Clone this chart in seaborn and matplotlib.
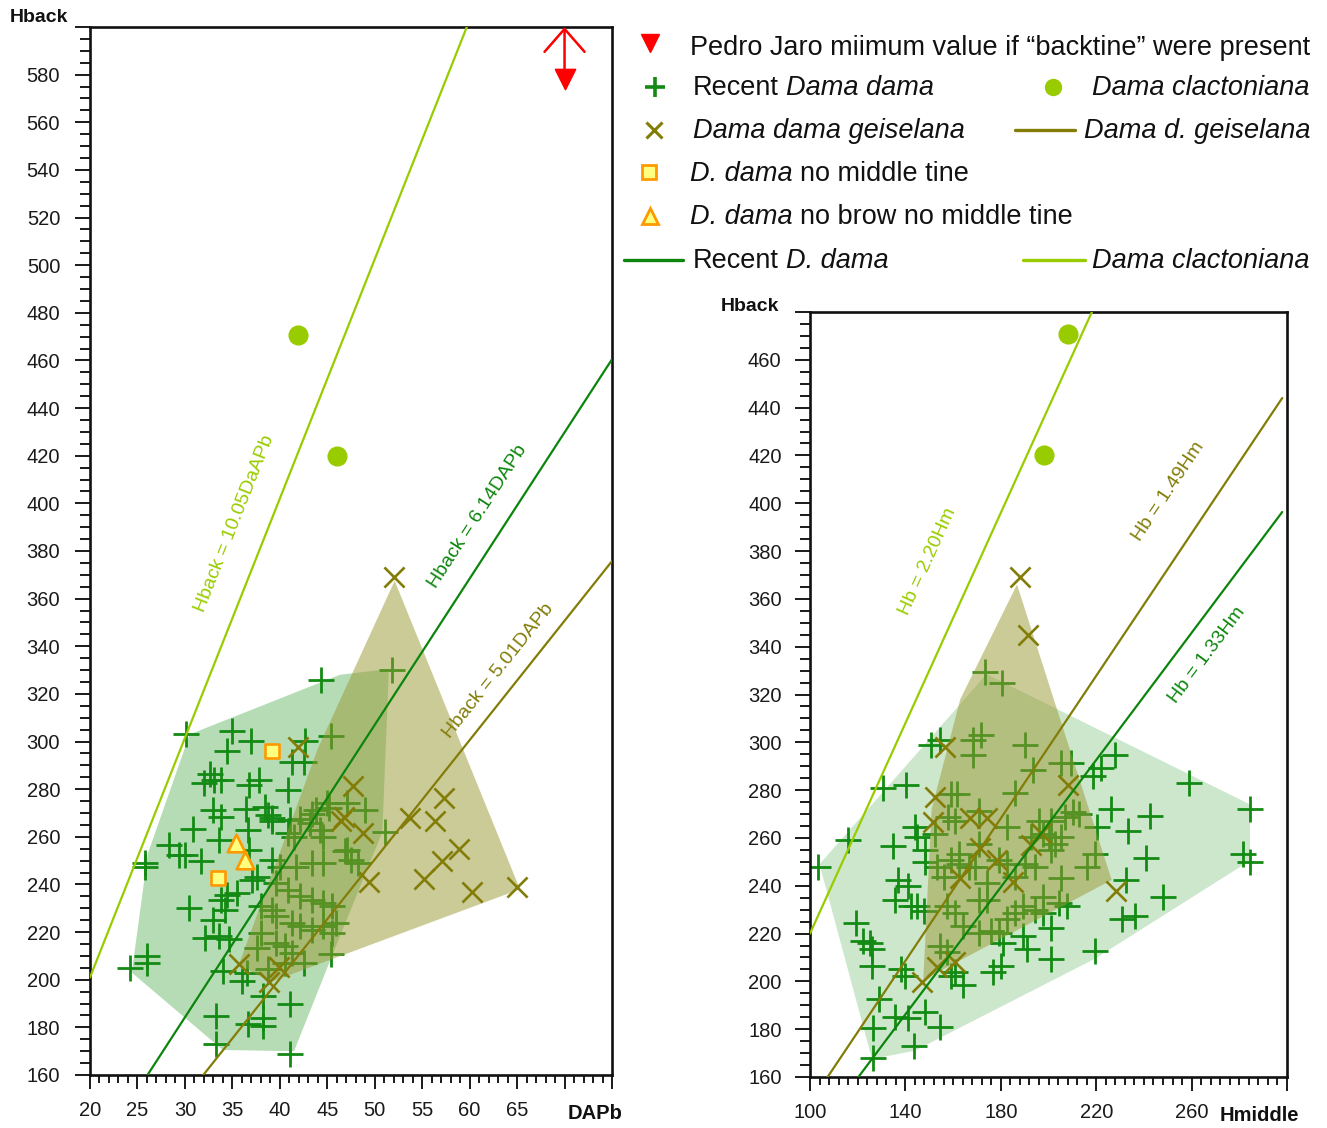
import numpy as np
import pandas as pd
import matplotlib
matplotlib.use("Agg")
import matplotlib.pyplot as plt
from matplotlib.ticker import MultipleLocator
import seaborn as sns

# ---------------- left panel: DAPb vs Hback ----------------
recent_dapb = [30.1, 44.3, 51.8, 35.0, 37.0, 34.4, 45.4, 42.7, 41.3, 42.5, 32.6, 32.0, 33.1, 33.8,
               36.8, 37.8, 40.9, 33.0, 33.8, 36.4, 38.4, 38.8, 39.2, 41.1, 42.1, 43.8, 45.0, 47.1,
               49.0, 30.9, 28.3, 29.4, 30.0, 31.7, 33.6, 36.6, 36.8, 40.9, 41.5, 43.2, 44.2, 44.6,
               47.1, 47.5, 48.2, 51.1, 25.8, 25.8, 24.2, 26.0, 26.0, 30.4, 33.0, 33.8, 34.4, 35.5,
               34.2, 32.1, 33.6, 34.6, 34.0, 36.0, 36.5, 37.6, 37.1, 37.6, 39.2, 40.0, 41.7, 43.4,
               44.6, 39.6, 40.9, 42.1, 43.4, 44.6, 45.5, 38.0, 39.2, 39.6, 41.3, 42.1, 43.4, 44.6,
               45.9, 45.5, 38.0, 39.6, 40.5, 41.3, 42.5, 40.5, 38.8, 45.4, 38.2, 41.1, 33.3, 36.6,
               38.2, 38.2, 33.3, 41.1, 46.9, 45.2, 43.4, 39.2]
recent_hback = [303.3, 326.0, 330.2, 304.4, 300.2, 296.0, 302.4, 300.2, 291.3, 291.3, 286.5, 282.4,
                283.8, 283.8, 281.7, 283.8, 279.6, 271.2, 268.4, 271.6, 272.6, 269.1, 267.7, 267.0,
                267.3, 271.2, 274.0, 274.0, 271.2, 263.3, 256.6, 252.4, 252.4, 250.0, 258.7, 262.9,
                254.5, 261.5, 260.0, 265.6, 262.9, 260.0, 254.5, 250.3, 248.9, 262.2, 248.9, 247.4,
                205.0, 207.1, 209.9, 230.1, 225.2, 233.6, 235.7, 236.4, 229.4, 217.6, 218.3, 216.9,
                203.6, 199.4, 202.9, 213.4, 242.0, 243.3, 250.3, 247.5, 247.5, 248.9, 248.9, 240.6,
                237.8, 235.0, 233.6, 232.2, 230.8, 230.8, 229.4, 226.6, 223.8, 222.4, 221.0, 222.4,
                223.8, 219.7, 219.7, 215.5, 214.1, 211.3, 207.1, 207.1, 204.3, 210.6, 193.2, 189.7,
                184.8, 181.3, 184.1, 180.6, 173.0, 168.8, 254.1, 272.3, 269.5, 266.7]

geis_dapb = [52.0, 41.9, 47.7, 46.4, 46.8, 48.8, 53.7, 56.3, 57.3, 58.9, 57.1, 55.2, 49.4, 60.2,
             65.0, 35.7, 39.9, 38.9]
geis_hback = [369.2, 297.7, 281.3, 266.7, 268.5, 261.4, 268.1, 266.7, 276.2, 254.9, 249.7, 242.3,
              241.2, 237.0, 239.1, 206.7, 205.3, 199.0]

clacto_dapb = [41.9, 46.0]
clacto_hback_l = [470.5, 420.0]

no_middle_dapb = [39.2, 33.5]
no_middle_hback = [296.2, 242.7]
no_brow_dapb = [35.4, 36.3]
no_brow_hback = [257.5, 250.2]

pedro_dapb = [70.0]
pedro_hback = [578.0]

# outlines of the two groups (DAPb, Hback)
recent_hull_dapb = [24.4, 26.1, 30.5, 46.3, 51.5, 50.8, 45.5, 41.5, 34.0]
recent_hull_hback = [203.0, 253.0, 303.0, 328.0, 330.5, 262.0, 210.0, 170.0, 170.5]
geis_hull_dapb = [52.1, 65.3, 39.0, 35.7, 44.0]
geis_hull_hback = [367.5, 238.0, 199.0, 206.5, 297.0]

# fitted ratios, left panel
left_slopes = {"clacto": 10.05, "recent": 6.14, "geis": 5.01}

# ---------------- right panel: Hmiddle vs Hback ----------------
recent_hm = [103.2, 116.1, 119.1, 122.4, 125.0, 125.8, 125.8, 128.8, 126.6, 126.3, 130.8, 140.4,
             135.0, 136.7, 140.9, 135.8, 138.0, 140.0, 135.8, 140.9, 143.7, 144.2, 145.0, 145.0,
             147.9, 148.4, 154.3, 150.6, 154.3, 148.4, 153.4, 158.0, 159.3, 161.8, 168.5, 171.9,
             168.5, 173.4, 180.4, 190.3, 193.6, 186.1, 205.4, 209.5, 218.8, 222.1, 228.0, 259.0,
             284.6, 281.6, 284.6, 226.0, 242.7, 233.5, 241.0, 232.7, 248.1, 231.0, 236.4, 219.3,
             201.2, 201.2, 205.4, 219.6, 220.4, 216.2, 212.9, 210.4, 207.1, 201.2, 196.2, 192.8,
             197.8, 202.8, 205.4, 194.5, 190.3, 186.1, 182.7, 179.4, 174.4, 171.0, 174.4, 169.3,
             166.8, 162.6, 159.3, 156.3, 157.6, 161.0, 164.3, 171.0, 176.0, 179.4, 182.7, 186.1,
             189.4, 194.5, 197.8, 204.5, 207.8, 189.4, 181.0, 154.3, 157.6, 161.0, 159.3, 164.3,
             176.9, 180.2, 182.7, 171.0, 161.0, 152.6, 148.1, 142.5, 171.0, 162.6, 200.3, 201.2,
             191.1, 197.8]
recent_hb = [247.9, 259.0, 224.5, 216.9, 216.2, 213.5, 206.6, 192.8, 180.4, 168.0, 281.0, 282.1,
             256.6, 242.4, 239.7, 234.1, 205.2, 202.4, 185.2, 184.5, 172.8, 264.5, 260.3, 231.4,
             229.3, 187.3, 181.1, 298.9, 301.0, 250.0, 247.9, 268.6, 278.2, 278.2, 301.0, 303.0,
             294.8, 329.6, 324.7, 298.9, 288.6, 278.9, 291.3, 291.3, 285.8, 289.3, 294.8, 283.1,
             272.3, 253.4, 250.0, 272.3, 269.3, 263.1, 251.4, 242.4, 235.5, 225.9, 227.3, 212.8,
             209.3, 222.4, 243.1, 253.4, 264.5, 247.9, 270.0, 270.7, 268.6, 267.2, 267.2, 260.3,
             261.7, 257.6, 260.3, 247.9, 249.3, 243.8, 249.3, 250.7, 241.0, 234.1, 234.1, 247.9,
             247.9, 249.3, 250.7, 243.8, 231.4, 228.6, 223.1, 220.4, 221.0, 220.4, 225.9, 228.6,
             231.4, 230.0, 228.6, 232.8, 231.4, 219.0, 216.2, 214.9, 212.1, 203.8, 202.4, 198.3,
             203.8, 206.6, 264.5, 271.4, 267.2, 261.7, 254.8, 231.4, 257.6, 253.4, 260.3, 254.8,
             213.5, 235.5]

geis_hm = [188.1, 191.4, 156.6, 152.4, 151.4, 167.1, 174.1, 171.3, 178.3, 185.2, 162.9, 192.5,
           197.0, 208.3, 228.3, 153.1, 160.8, 146.8]
geis_hb = [369.3, 344.9, 298.2, 277.3, 266.8, 268.2, 268.2, 255.7, 250.8, 241.7, 243.1, 257.0,
           262.2, 282.2, 238.0, 206.2, 208.2, 199.9]

clacto_hm = [208.0, 198.2]
clacto_hb = [471.0, 420.0]

recent_hull_hm = [104.0, 174.0, 284.5, 284.5, 219.5, 144.0, 126.0]
recent_hull_hb = [249.0, 328.5, 274.0, 250.5, 209.5, 171.0, 167.5]
geis_hull_hm = [186.8, 226.5, 147.5, 151.0, 163.0]
geis_hull_hb = [366.0, 242.4, 200.6, 272.0, 318.0]

right_slopes = {"clacto": 2.20, "geis": 1.49, "recent": 1.33}

# ---------------- styling ----------------
GREEN = "#138a13"
GREEN_LINE = "#0c850c"
OLIVE = "#837d08"
LIME = "#99cc00"
RED = "#ff0000"
SQ_FACE = "#ffff80"
SQ_EDGE = "#ff9900"
INK = "#111111"

sns.set_theme(style="ticks")
plt.rcParams["font.family"] = ["Liberation Sans", "DejaVu Sans"]
plt.rcParams["axes.unicode_minus"] = False

W, H = 1327, 1128
fig = plt.figure(figsize=(W / 100, H / 100), dpi=100)
fig.patch.set_facecolor("white")


def px_axes(left, top, right, bottom):
    return fig.add_axes([left / W, 1 - bottom / H, (right - left) / W, (bottom - top) / H])


axL = px_axes(90, 27, 612, 1075)
axR = px_axes(810, 312, 1287, 1077)
axL.set_xlim(20, 75)
axL.set_ylim(160, 600)
axR.set_xlim(100, 300)
axR.set_ylim(160, 480)

CROSS_S, CROSS_LW = 370, 2.0
X_S, X_LW = 210, 1.9


def style_axes(ax, xlim, ylim, xmaj, xmin, ymaj, ymin, xlabels, ylabels, ypad):
    ax.set_xlim(*xlim)
    ax.set_ylim(*ylim)
    xt = np.arange(xlim[0], xlim[1] + 0.01, xmaj)
    yt = np.arange(ylim[0], ylim[1] + 0.01, ymaj)
    ax.set_xticks(xt)
    ax.set_yticks(yt)
    ax.xaxis.set_minor_locator(MultipleLocator(xmin))
    ax.yaxis.set_minor_locator(MultipleLocator(ymin))
    ax.set_xticklabels([f"{v:g}" if v in xlabels else "" for v in xt])
    ax.set_yticklabels([f"{v:g}" if v in ylabels else "" for v in yt])
    ax.tick_params(axis="both", which="both", direction="out", colors="#1a1a1a",
                   labelcolor="#1a1a1a", top=False, right=False, width=1.4,
                   labelsize=14.5)
    ax.tick_params(axis="x", which="major", length=10, pad=9)
    ax.tick_params(axis="x", which="minor", length=5.5)
    ax.tick_params(axis="y", which="major", length=10.5, pad=ypad)
    ax.tick_params(axis="y", which="minor", length=7)
    for sp in ax.spines.values():
        sp.set_visible(True)
        sp.set_linewidth(1.9)
        sp.set_color(INK)
    ax.set_xlabel("")
    ax.set_ylabel("")
    ax.set_facecolor("white")


def line_angle(ax, slope, x0):
    p1 = ax.transData.transform((x0, slope * x0))
    p2 = ax.transData.transform((x0 + 1, slope * (x0 + 1)))
    return np.degrees(np.arctan2(p2[1] - p1[1], p2[0] - p1[0]))


# ---------------- left panel ----------------
axL.fill(recent_hull_dapb, recent_hull_hback, color="#2e9b2e", alpha=0.35, lw=0, zorder=1)
sns.scatterplot(x=recent_dapb, y=recent_hback, marker="+", s=CROSS_S, color=GREEN,
                linewidth=CROSS_LW, ax=axL, zorder=2, legend=False)
axL.fill(geis_hull_dapb, geis_hull_hback, color="#999933", alpha=0.5, lw=0, zorder=3)
sns.scatterplot(x=geis_dapb, y=geis_hback, marker="x", s=X_S, color=OLIVE,
                linewidth=X_LW, ax=axL, zorder=4, legend=False)

left_lines = [("clacto", LIME), ("recent", GREEN_LINE), ("geis", OLIVE)]
for key, col in left_lines:
    k = left_slopes[key]
    xs = np.array([20.0, 75.0])
    sns.lineplot(x=xs, y=k * xs, color=col, lw=1.6, ax=axL, zorder=5, legend=False)

sns.scatterplot(x=clacto_dapb, y=clacto_hback_l, marker="o", s=180, color=LIME,
                edgecolor=LIME, ax=axL, zorder=6, legend=False)
sns.scatterplot(x=no_middle_dapb, y=no_middle_hback, marker="s", s=115, color=SQ_FACE,
                edgecolor=SQ_EDGE, linewidth=1.9, ax=axL, zorder=6, legend=False)
sns.scatterplot(x=no_brow_dapb, y=no_brow_hback, marker="^", s=160, color=SQ_FACE,
                edgecolor=SQ_EDGE, linewidth=1.9, ax=axL, zorder=6, legend=False)

# Pedro Jaro: minimum value with an upward-open arrow
sns.scatterplot(x=pedro_dapb, y=pedro_hback, marker="v", s=210, color=RED,
                edgecolor=RED, ax=axL, zorder=7, legend=False)
axL.annotate("", xy=(pedro_dapb[0], 600), xytext=(pedro_dapb[0], pedro_hback[0]),
             arrowprops=dict(arrowstyle="->,head_length=0.55,head_width=0.48",
                             color=RED, lw=1.8, mutation_scale=30, shrinkA=0, shrinkB=0),
             annotation_clip=False, zorder=7)

left_labels = [("Hback = 10.05DaAPb", "clacto", LIME, 35.2, 391.4),
               ("Hback = 6.14DAPb", "recent", GREEN_LINE, 60.9, 394.3),
               ("Hback = 5.01DAPb", "geis", OLIVE, 63.0, 329.5)]
for txt, key, col, tx, ty in left_labels:
    ang = line_angle(axL, left_slopes[key], tx)
    axL.text(tx, ty, txt, color=col, fontsize=14, rotation=ang, rotation_mode="anchor",
             ha="center", va="center", zorder=8)

# ---------------- right panel ----------------
axR.fill(recent_hull_hm, recent_hull_hb, color="#2e9b2e", alpha=0.24, lw=0, zorder=1)
sns.scatterplot(x=recent_hm, y=recent_hb, marker="+", s=CROSS_S, color=GREEN,
                linewidth=CROSS_LW, ax=axR, zorder=2, legend=False)
axR.fill(geis_hull_hm, geis_hull_hb, color="#999933", alpha=0.5, lw=0, zorder=3)
sns.scatterplot(x=geis_hm, y=geis_hb, marker="x", s=X_S, color=OLIVE,
                linewidth=X_LW, ax=axR, zorder=4, legend=False)

right_lines = [("clacto", LIME), ("geis", OLIVE), ("recent", GREEN_LINE)]
for key, col in right_lines:
    k = right_slopes[key]
    xs = np.array([100.0, 298.0])
    sns.lineplot(x=xs, y=k * xs, color=col, lw=1.6, ax=axR, zorder=5, legend=False)

sns.scatterplot(x=clacto_hm, y=clacto_hb, marker="o", s=180, color=LIME,
                edgecolor=LIME, ax=axR, zorder=6, legend=False)

right_labels = [("Hb = 2.20Hm", "clacto", LIME, 149.5, 375.5),
                ("Hb = 1.49Hm", "geis", OLIVE, 250.1, 404.8),
                ("Hb = 1.33Hm", "recent", GREEN_LINE, 266.5, 336.6)]
for txt, key, col, tx, ty in right_labels:
    ang = line_angle(axR, right_slopes[key], tx)
    axR.text(tx, ty, txt, color=col, fontsize=14, rotation=ang, rotation_mode="anchor",
             ha="center", va="center", zorder=8)

# axis styling after all plotting calls
style_axes(axL, (20, 75), (160, 600), 5, 1, 20, 5,
           set(range(20, 70, 5)), set(range(160, 600, 20)), 11)
style_axes(axR, (100, 300), (160, 480), 40, 4, 20, 5,
           set(range(100, 300, 40)), set(range(160, 480, 20)), 10)

axL.text(-0.097, 1.009, "Hback", transform=axL.transAxes, fontsize=14, fontweight="bold",
         ha="center", va="center", color=INK)
axL.text(0.967, -0.0365, "DAPb", transform=axL.transAxes, fontsize=14.5, fontweight="bold",
         ha="center", va="center", color=INK)
axR.text(-0.126, 1.007, "Hback", transform=axR.transAxes, fontsize=14, fontweight="bold",
         ha="center", va="center", color=INK)
axR.text(0.943, -0.0497, "Hmiddle", transform=axR.transAxes, fontsize=14.5, fontweight="bold",
         ha="center", va="center", color=INK)

# ---------------- legend block ----------------
lg = fig.add_axes([0, 0, 1, 1], zorder=10)
lg.set_xlim(0, W)
lg.set_ylim(H, 0)
lg.axis("off")
lg.patch.set_alpha(0)

LFS = 19.5
renderer = fig.canvas.get_renderer()


def text_width(s, style):
    t = lg.text(0, 0, s, fontsize=LFS, style=style)
    w = t.get_window_extent(renderer).width
    t.remove()
    return w


SPACE_W = text_width("a a", "normal") - text_width("aa", "normal")


def rich_text(x, y, parts, ha="left"):
    """Draw a run of (text, style) pieces on one baseline; x in pixels."""
    widths = [text_width(s, st) for s, st in parts]
    total = sum(widths) + SPACE_W * (len(parts) - 1)
    cur = x if ha == "left" else x - total
    for (s, st), w in zip(parts, widths):
        lg.text(cur, y, s, fontsize=LFS, style=st, va="center", ha="left", color=INK)
        cur += w + SPACE_W


lg.plot([650], [43], marker="v", ms=13, color=RED, ls="none")
rich_text(690, 48, [("Pedro Jaro miimum value if \u201cbacktine\u201d were present", "normal")])

lg.plot([655], [87], marker="+", ms=14, mew=2.6, color=GREEN, ls="none")
rich_text(693, 88, [("Recent", "normal"), ("Dama dama", "italic")])
lg.plot([1053], [87], marker="o", ms=11.5, color=LIME, ls="none")
rich_text(1310, 88, [("Dama clactoniana", "italic")], ha="right")

lg.plot([654], [130], marker="x", ms=12, mew=2.2, color=OLIVE, ls="none")
rich_text(693, 131, [("Dama dama geiselana", "italic")])
lg.plot([1015, 1075], [130, 130], color=OLIVE, lw=2.4)
rich_text(1310, 131, [("Dama d. geiselana", "italic")], ha="right")

lg.plot([649], [172], marker="s", ms=9.5, mfc=SQ_FACE, mec=SQ_EDGE, mew=2, ls="none")
rich_text(690, 174, [("D. dama", "italic"), ("no middle tine", "normal")])

lg.plot([650], [216], marker="^", ms=11, mfc=SQ_FACE, mec=SQ_EDGE, mew=2, ls="none")
rich_text(690, 217, [("D. dama", "italic"), ("no brow no middle tine", "normal")])

lg.plot([624, 683], [260, 260], color=GREEN_LINE, lw=2.4)
rich_text(693, 261, [("Recent", "normal"), ("D. dama", "italic")])
lg.plot([1023, 1085], [260, 260], color=LIME, lw=2.4)
rich_text(1310, 261, [("Dama clactoniana", "italic")], ha="right")

fig.savefig("out.png", dpi=100, facecolor="white")
